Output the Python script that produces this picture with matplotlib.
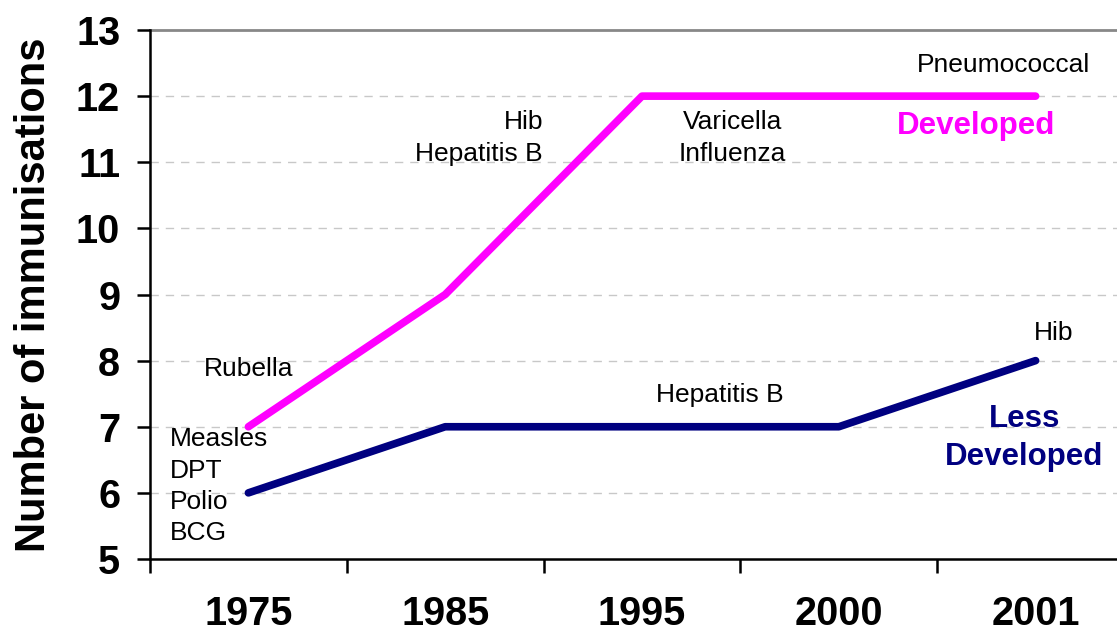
import matplotlib
matplotlib.use("Agg")
import matplotlib.pyplot as plt
from matplotlib.ticker import FixedLocator

plt.rcParams['font.family'] = ['Liberation Sans', 'DejaVu Sans']

years = ["1975", "1985", "1995", "2000", "2001"]
developed = [7, 9, 12, 12, 12]
less_developed = [6, 7, 7, 7, 8]
y_ticks = [5, 6, 7, 8, 9, 10, 11, 12, 13]

MAGENTA = "#FF00FF"
NAVY = "#000080"

fig = plt.figure(figsize=(11.17, 6.35), dpi=100)
W, H = 1117, 635
left, right, top, bottom = 150, 1134, 30, 559
ax = fig.add_axes([left / W, (H - bottom) / H, (right - left) / W, (bottom - top) / H])

x = list(range(len(years)))
ax.set_xlim(-0.5, len(years) - 0.5)
ax.set_ylim(5, 13)

# gridlines
for v in y_ticks[1:-1]:
    ax.axhline(v, color="#c8c8c8", lw=1, ls=(0, (6, 5)), zorder=1)
ax.axhline(13, color="#888888", lw=2, zorder=1, clip_on=False)

ax.plot(x, developed, color=MAGENTA, lw=5.5, solid_capstyle="round", zorder=3)
ax.plot(x, less_developed, color=NAVY, lw=5.5, solid_capstyle="round", zorder=3)

# axes styling
for s in ["top", "right"]:
    ax.spines[s].set_visible(False)
for s in ["left", "bottom"]:
    ax.spines[s].set_linewidth(1.8)
    ax.spines[s].set_color("black")

ax.set_yticks(y_ticks)
ax.set_yticklabels([str(v) for v in y_ticks], fontsize=28.5, fontweight="bold")
ax.tick_params(axis="y", length=9.5, width=1.8, pad=12, direction="out")

ax.set_xticks(x)
ax.set_xticklabels(years, fontsize=28.5, fontweight="bold")
ax.tick_params(axis="x", which="major", length=0, pad=26)
ax.xaxis.set_minor_locator(FixedLocator([i - 0.5 for i in range(len(years) + 1)]))
ax.tick_params(axis="x", which="minor", length=10, width=1.8, direction="out")

ax.set_ylabel("Number of immunisations", fontsize=30, fontweight="bold", labelpad=16)

# vaccine annotations
fs = 19
ax.text(-0.398, 6.10, "Measles\nDPT\nPolio\nBCG", fontsize=fs, ha="left", va="center",
        linespacing=1.39)
ax.text(0.0, 7.87, "Rubella", fontsize=fs, ha="center", va="center")
ax.text(1.497, 11.37, "Hib\nHepatitis B", fontsize=fs, ha="right", va="center",
        multialignment="right", linespacing=1.45)
ax.text(2.46, 11.37, "Varicella\nInfluenza", fontsize=fs, ha="center", va="center",
        linespacing=1.45)
ax.text(3.835, 12.47, "Pneumococcal", fontsize=fs, ha="center", va="center")
ax.text(2.397, 7.48, "Hepatitis B", fontsize=fs, ha="center", va="center")
ax.text(4.09, 8.42, "Hib", fontsize=fs, ha="center", va="center")

# series labels
ax.text(3.70, 11.55, "Developed", fontsize=22.5, fontweight="bold", color=MAGENTA,
        ha="center", va="center")
ax.text(3.54, 6.83, "Less\nDeveloped", fontsize=22.5, fontweight="bold", color=NAVY,
        ha="left", va="center", multialignment="center", linespacing=1.34)

fig.savefig("out.png", dpi=100)
